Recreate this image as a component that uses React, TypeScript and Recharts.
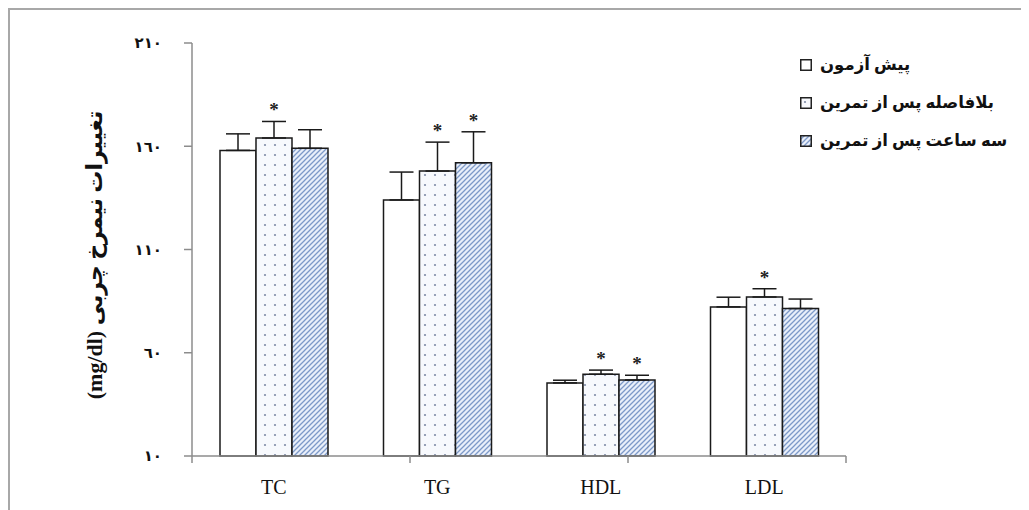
import React from 'react';
import { BarChart, Bar, XAxis, YAxis, ErrorBar, LabelList, Legend } from 'recharts';

// lipid profile groups
const categories = ['TC', 'TG', 'HDL', 'LDL'];

// series values (mg/dl) and SD
const preTest = [158, 134, 45.4, 82.2];
const preTestErr = [8, 13.5, 1.3, 4.7];
const immediate = [164, 148, 49.6, 87];
const immediateErr = [8, 14, 2, 4];
const threeHours = [159, 152, 46.8, 81.4];
const threeHoursErr = [9, 15, 2.3, 4.6];

// significance markers
const immediateSig = [true, true, true, true];
const threeHoursSig = [false, true, true, false];

const seriesNames = ['پیش آزمون', 'بلافاصله پس از تمرین', 'سه ساعت پس از تمرین'];
const yTicks = [10, 60, 110, 160, 210];

const data = categories.map((name, i) => ({
  name,
  pre: preTest[i],
  preErr: [0, preTestErr[i]],
  imm: immediate[i],
  immErr: [0, immediateErr[i]],
  three: threeHours[i],
  threeErr: [0, threeHoursErr[i]],
  immStar: immediateSig[i] ? '*' : '',
  threeStar: threeHoursSig[i] ? '*' : '',
}));

const faDigits = (n: number) => String(n).replace(/\d/g, d => '٠١٢٣٤٥٦٧٨٩'[+d]);

const fills = ['#ffffff', 'url(#dots)', 'url(#hatch)'];

const makeStar = (vals: number[], errs: number[]) => (props: any) => {
  const { x, y, width, height, index, value } = props;
  if (!value) return null;
  const pxPerUnit = height / (vals[index] - 10);
  const top = y - errs[index] * pxPerUnit;
  return (
    <text x={x + width / 2} y={top - 5} textAnchor="middle" fontSize={19} fontWeight="bold" fill="#222"
      fontFamily="'Liberation Serif', serif">
      *
    </text>
  );
};

const LegendBox = ({ fill }: { fill: string }) => (
  <svg width={12} height={12} style={{ flex: 'none' }}>
    <rect x={0.75} y={0.75} width={10.5} height={10.5} fill={fill} stroke="#222" strokeWidth={1.5} />
  </svg>
);

const renderLegend = () => (
  <div style={{ display: 'flex', flexDirection: 'column', gap: 20 }}>
    {seriesNames.map((s, i) => (
      <div key={s} style={{ display: 'flex', alignItems: 'center', gap: 8 }}>
        <LegendBox fill={fills[i]} />
        <span style={{ direction: 'rtl', fontWeight: 'bold', fontSize: 16.5, color: '#111', lineHeight: '18px',
          fontFamily: "'Liberation Serif', 'DejaVu Sans', serif" }}>{s}</span>
      </div>
    ))}
  </div>
);

const NoLabel = () => <g />;

export default function App() {
  return (
    <div style={{ position: 'relative', width: 1019, height: 500, borderTop: '2px solid #a8a8a8', borderLeft: '2px solid #a8a8a8', background: '#fff' }}>
      <svg width={0} height={0} style={{ position: 'absolute' }}>
        <defs>
          <pattern id="dots" width={10} height={10} patternUnits="userSpaceOnUse">
            <rect width={10} height={10} fill="#f7f9fd" />
            <circle cx={5} cy={5} r={1.1} fill="#7f8ba6" />
          </pattern>
          <pattern id="hatch" width={5} height={5} patternUnits="userSpaceOnUse">
            <rect width={5} height={5} fill="#e9effa" />
            <path d="M0,5 L5,0 M-1,1 L1,-1 M4,6 L6,4" stroke="#7d99c8" strokeWidth={1.3} />
          </pattern>
        </defs>
      </svg>
      <div style={{ position: 'absolute', left: 85, top: 245, width: 0, height: 0 }}>
        <div style={{ position: 'absolute', transform: 'translate(-50%, -50%) rotate(-90deg)', whiteSpace: 'nowrap',
          direction: 'rtl', fontWeight: 'bold', fontSize: 22, color: '#111', fontFamily: "'Liberation Serif', 'DejaVu Sans', serif" }}>
          تغییرات نیمرخ چربی (mg/dl)
        </div>
      </div>
      <BarChart width={1019} height={498} data={data} barGap={0} barSize={36}
        margin={{ top: 33, right: 183, bottom: 0, left: 122 }}>
        <XAxis xAxisId="axis" type="number" domain={[0, 4]} ticks={[0, 1, 2, 3, 4]} allowDataOverflow
          height={8} tickSize={7} tick={NoLabel} axisLine={{ stroke: '#8c8c8c', strokeWidth: 1.5 }}
          tickLine={{ stroke: '#8c8c8c', strokeWidth: 1.5 }} />
        <XAxis xAxisId="cat" dataKey="name" height={44} axisLine={false} tickLine={false} tickSize={6} tickMargin={10}
          tick={{ fill: '#111', fontSize: 20, fontFamily: "'Liberation Serif', serif" }} />
        <YAxis domain={[10, 210]} ticks={yTicks} width={60} tickSize={8} tickMargin={22}
          tickFormatter={faDigits} axisLine={{ stroke: '#8c8c8c', strokeWidth: 1.5 }}
          tickLine={{ stroke: '#8c8c8c', strokeWidth: 1.5 }}
          tick={{ fill: '#111', fontSize: 15, fontWeight: 'bold', fontFamily: "'DejaVu Sans', sans-serif" }} />
        <Legend layout="vertical" align="center" verticalAlign="middle" content={renderLegend}
          wrapperStyle={{ top: 46, left: 790, width: 225, height: 120 }} />
        <Bar xAxisId="cat" dataKey="pre" name={seriesNames[0]} fill={fills[0]} stroke="#1a1a1a" strokeWidth={1.5} isAnimationActive={false}>
          <ErrorBar dataKey="preErr" direction="y" width={12} stroke="#1a1a1a" strokeWidth={1.5} />
        </Bar>
        <Bar xAxisId="cat" dataKey="imm" name={seriesNames[1]} fill={fills[1]} stroke="#1a1a1a" strokeWidth={1.5} isAnimationActive={false}>
          <ErrorBar dataKey="immErr" direction="y" width={12} stroke="#1a1a1a" strokeWidth={1.5} />
          <LabelList dataKey="immStar" content={makeStar(immediate, immediateErr)} />
        </Bar>
        <Bar xAxisId="cat" dataKey="three" name={seriesNames[2]} fill={fills[2]} stroke="#1a1a1a" strokeWidth={1.5} isAnimationActive={false}>
          <ErrorBar dataKey="threeErr" direction="y" width={12} stroke="#1a1a1a" strokeWidth={1.5} />
          <LabelList dataKey="threeStar" content={makeStar(threeHours, threeHoursErr)} />
        </Bar>
      </BarChart>
    </div>
  );
}
